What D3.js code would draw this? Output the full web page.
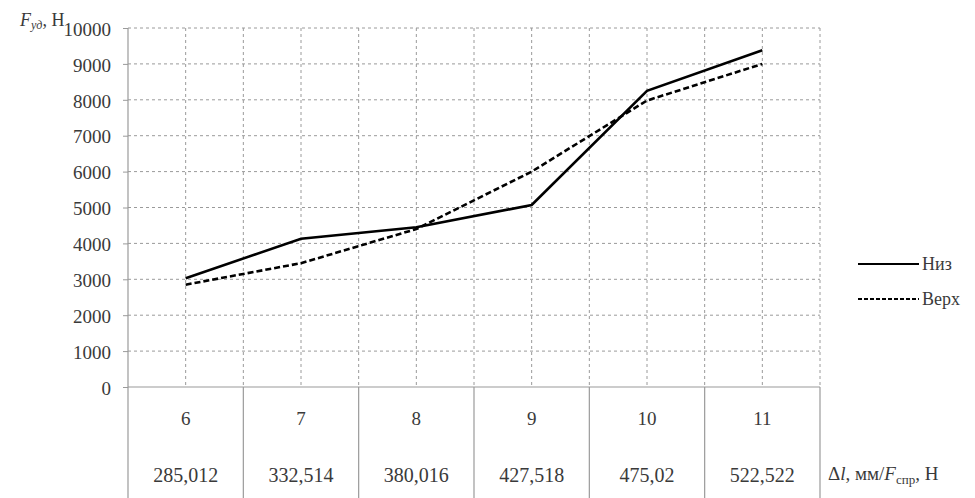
<!DOCTYPE html>
<html><head><meta charset="utf-8">
<script src="https://cdn.jsdelivr.net/npm/d3@7"></script>
<style>body{margin:0;background:#fff}svg{display:block}</style>
</head><body><svg id="c" width="975" height="498"></svg>
<script>
const categories = ["6","7","8","9","10","11"];
const forces = ["285,012","332,514","380,016","427,518","475,02","522,522"];
const niz = [3030, 4130, 4450, 5070, 8250, 9380];
const verkh = [2850, 3450, 4400, 6000, 7980, 9000];
const yTicks = [0,1000,2000,3000,4000,5000,6000,7000,8000,9000,10000];

const FF = "'Liberation Serif'";
const TC = "#3a3a3a";
const svg = d3.select("#c");
const L = 128, R = 820, T = 28, B = 387;
const x = d3.scaleBand().domain(categories).range([L, R]).padding(0);
const y = d3.scaleLinear().domain([0, 10000]).range([B, T]);
const grid = "#9a9a9a";

// horizontal grid
svg.append("g").selectAll("line").data(yTicks.filter(d => d > 0)).join("line")
  .attr("x1", L).attr("x2", R).attr("y1", d => y(d)).attr("y2", d => y(d))
  .attr("stroke", grid).attr("stroke-width", 1).attr("stroke-dasharray", "3,3");
// vertical grid at band centers and boundaries
const halfs = [];
categories.forEach(c => { halfs.push(x(c) + x.bandwidth()/2); halfs.push(x(c) + x.bandwidth()); });
svg.append("g").selectAll("line").data(halfs).join("line")
  .attr("x1", d => d).attr("x2", d => d).attr("y1", T).attr("y2", B)
  .attr("stroke", grid).attr("stroke-width", 1).attr("stroke-dasharray", "3,3");

// y axis
const yAxis = d3.axisLeft(y).tickValues(yTicks).tickSize(5).tickPadding(12).tickFormat(d3.format("d"));
const ga = svg.append("g").attr("transform", `translate(${L},0)`).call(yAxis);
ga.attr("font-family", null).attr("font-size", null);
ga.select(".domain").remove();
ga.selectAll(".tick line").attr("stroke", grid);
ga.selectAll(".tick text").attr("fill", TC).style("font-family", FF).style("font-size", "19px").attr("dy", "0.38em");
svg.append("line").attr("x1", L).attr("x2", L).attr("y1", T).attr("y2", 498).attr("stroke", grid).attr("stroke-width", 1.2);
// x axis line
svg.append("line").attr("x1", L).attr("x2", R).attr("y1", B).attr("y2", B).attr("stroke", grid).attr("stroke-width", 1.2);
// table verticals
svg.append("g").selectAll("line").data(categories.map(c => x(c) + x.bandwidth())).join("line")
  .attr("x1", d => d).attr("x2", d => d).attr("y1", B).attr("y2", 498)
  .attr("stroke", grid).attr("stroke-width", 1.2);
// table text
svg.append("g").selectAll("text").data(categories).join("text")
  .attr("x", d => x(d) + x.bandwidth()/2).attr("y", 425).attr("text-anchor", "middle")
  .style("font-family", FF).style("font-size", "19px").attr("fill", TC).text(d => d);
svg.append("g").selectAll("text").data(categories.map((c, i) => [c, forces[i]])).join("text")
  .attr("x", d => x(d[0]) + x.bandwidth()/2).attr("y", 482).attr("text-anchor", "middle")
  .style("font-family", FF).style("font-size", "20px").attr("fill", TC).text(d => d[1]);

// lines
const line = d3.line().x((d, i) => x(categories[i]) + x.bandwidth()/2).y(d => y(d));
svg.append("path").datum(niz).attr("d", line).attr("fill", "none").attr("stroke", "#000").attr("stroke-width", 2.6);
svg.append("path").datum(verkh).attr("d", line).attr("fill", "none").attr("stroke", "#000").attr("stroke-width", 2.6).attr("stroke-dasharray", "6,3");

// legend
svg.append("line").attr("x1", 858).attr("x2", 919).attr("y1", 264).attr("y2", 264).attr("stroke", "#000").attr("stroke-width", 2);
svg.append("text").attr("x", 922).attr("y", 270).style("font-family", FF).style("font-size", "18px").attr("fill", TC).text("Низ");
svg.append("line").attr("x1", 858).attr("x2", 919).attr("y1", 299).attr("y2", 299).attr("stroke", "#000").attr("stroke-width", 2).attr("stroke-dasharray", "4,2");
svg.append("text").attr("x", 922).attr("y", 305).style("font-family", FF).style("font-size", "18px").attr("fill", TC).text("Верх");

// y title
const yt = svg.append("text").attr("x", 20).attr("y", 26).style("font-family", FF).style("font-size", "18px").attr("fill", TC);
yt.append("tspan").style("font-style", "italic").text("F");
yt.append("tspan").style("font-size", "12px").style("font-style", "italic").attr("dy", 3).text("уд");
yt.append("tspan").attr("dy", -3).text(", Н");

// x title
const xt = svg.append("text").attr("x", 828).attr("y", 480).style("font-family", FF).style("font-size", "19px").attr("fill", TC);
xt.append("tspan").text("Δ");
xt.append("tspan").style("font-style", "italic").text("l");
xt.append("tspan").text(", мм/");
xt.append("tspan").style("font-style", "italic").text("F");
xt.append("tspan").style("font-size", "13px").attr("dy", 4).text("спр");
xt.append("tspan").attr("dy", -4).text(", Н");
</script></body></html>
